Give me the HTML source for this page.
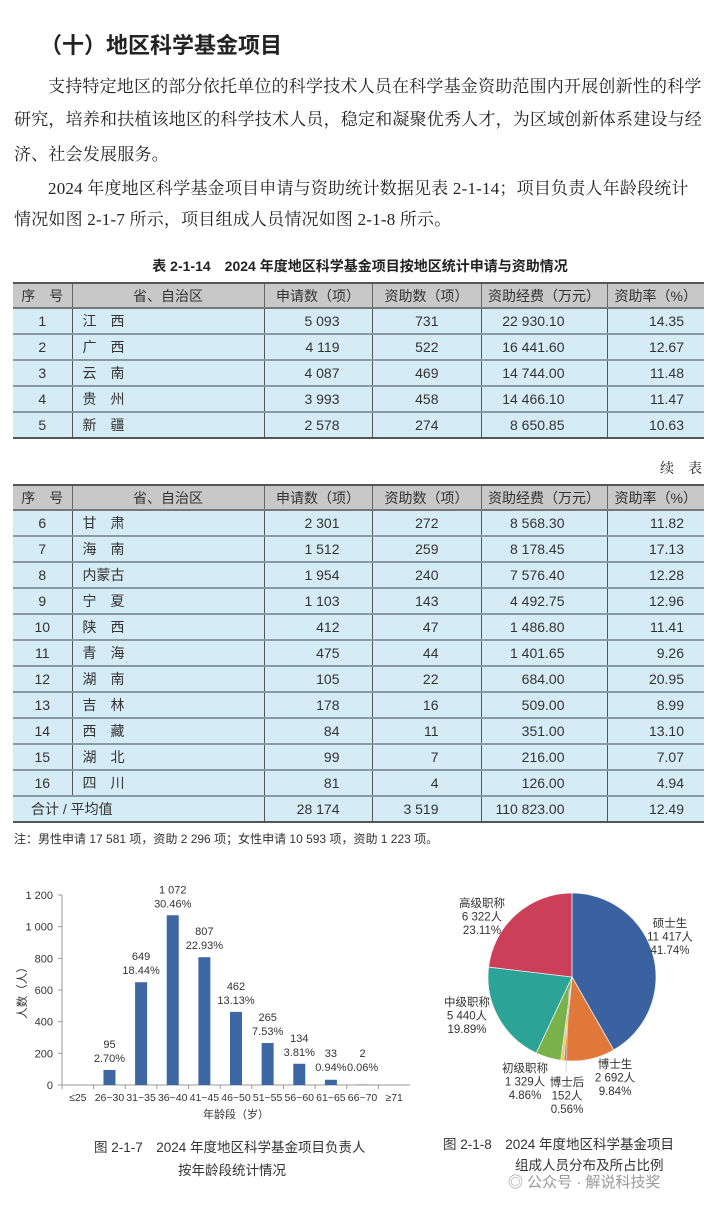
<!DOCTYPE html>
<html><head><meta charset="utf-8">
<style>
body{margin:0;width:720px;height:1210px;background:#fff;position:relative;overflow:hidden;font-family:"Liberation Sans","Noto Sans CJK SC",sans-serif;color:#222}
.abs{position:absolute;white-space:nowrap}
.para{font-family:"Liberation Serif","Noto Serif CJK SC",serif;font-size:17px;letter-spacing:0.2px;color:#222}
table{position:absolute;left:13px;width:691px;border-collapse:collapse;font-size:14px;color:#333;table-layout:fixed}
th,td{padding:0;box-sizing:border-box;line-height:16px}
th{background:#c8c8c8;font-weight:normal;height:25px;border-left:1px solid #666;border-top:2px solid #555;border-bottom:2px solid #777}
td{background:#d5ebf5;height:26px;border-left:1px solid #555;border-bottom:2px solid #8a9aa2;text-align:right}
th:first-child,td:first-child{border-left:none}
td.c{text-align:center}td.l{text-align:left;padding-left:10px}
tr:last-child td{border-bottom:2px solid #555}
</style></head><body>
<div class="abs" style="left:40px;top:28px;font-size:22px;font-weight:bold;font-family:'Liberation Sans','Noto Sans CJK SC',sans-serif">（十）地区科学基金项目</div>
<div class="abs para" style="left:48px;top:72px">支持特定地区的部分依托单位的科学技术人员在科学基金资助范围内开展创新性的科学</div>
<div class="abs para" style="left:14px;top:105px">研究，培养和扶植该地区的科学技术人员，稳定和凝聚优秀人才，为区域创新体系建设与经</div>
<div class="abs para" style="left:14px;top:140px">济、社会发展服务。</div>
<div class="abs para" style="left:48px;top:174px">2024 年度地区科学基金项目申请与资助统计数据见表 2-1-14；项目负责人年龄段统计</div>
<div class="abs para" style="left:14px;top:205px">情况如图 2-1-7 所示，项目组成人员情况如图 2-1-8 所示。</div>
<div class="abs" style="left:0;width:720px;text-align:center;top:256px;font-size:14px;font-weight:bold">表 2-1-14　2024 年度地区科学基金项目按地区统计申请与资助情况</div>

<table style="top:282px">
<colgroup><col style="width:59px"><col style="width:192px"><col style="width:108px"><col style="width:109px"><col style="width:126px"><col style="width:97px"></colgroup>
<tr><th>序　号</th><th>省、自治区</th><th>申请数（项）</th><th>资助数（项）</th><th>资助经费（万元）</th><th>资助率（%）</th></tr>
<tr><td class="c">1</td><td class="l">江　西</td><td style="padding-right:32px">5 093</td><td style="padding-right:42px">731</td><td style="padding-right:42px">22 930.10</td><td style="padding-right:20px">14.35</td></tr>
<tr><td class="c">2</td><td class="l">广　西</td><td style="padding-right:32px">4 119</td><td style="padding-right:42px">522</td><td style="padding-right:42px">16 441.60</td><td style="padding-right:20px">12.67</td></tr>
<tr><td class="c">3</td><td class="l">云　南</td><td style="padding-right:32px">4 087</td><td style="padding-right:42px">469</td><td style="padding-right:42px">14 744.00</td><td style="padding-right:20px">11.48</td></tr>
<tr><td class="c">4</td><td class="l">贵　州</td><td style="padding-right:32px">3 993</td><td style="padding-right:42px">458</td><td style="padding-right:42px">14 466.10</td><td style="padding-right:20px">11.47</td></tr>
<tr><td class="c">5</td><td class="l">新　疆</td><td style="padding-right:32px">2 578</td><td style="padding-right:42px">274</td><td style="padding-right:42px">8 650.85</td><td style="padding-right:20px">10.63</td></tr>
</table>

<div class="abs" style="left:660px;top:458px;font-size:14px;font-family:'Liberation Serif','Noto Serif CJK SC',serif">续　表</div>

<table style="top:484px">
<colgroup><col style="width:59px"><col style="width:192px"><col style="width:108px"><col style="width:109px"><col style="width:126px"><col style="width:97px"></colgroup>
<tr><th>序　号</th><th>省、自治区</th><th>申请数（项）</th><th>资助数（项）</th><th>资助经费（万元）</th><th>资助率（%）</th></tr>
<tr><td class="c">6</td><td class="l">甘　肃</td><td style="padding-right:32px">2 301</td><td style="padding-right:42px">272</td><td style="padding-right:42px">8 568.30</td><td style="padding-right:20px">11.82</td></tr>
<tr><td class="c">7</td><td class="l">海　南</td><td style="padding-right:32px">1 512</td><td style="padding-right:42px">259</td><td style="padding-right:42px">8 178.45</td><td style="padding-right:20px">17.13</td></tr>
<tr><td class="c">8</td><td class="l">内蒙古</td><td style="padding-right:32px">1 954</td><td style="padding-right:42px">240</td><td style="padding-right:42px">7 576.40</td><td style="padding-right:20px">12.28</td></tr>
<tr><td class="c">9</td><td class="l">宁　夏</td><td style="padding-right:32px">1 103</td><td style="padding-right:42px">143</td><td style="padding-right:42px">4 492.75</td><td style="padding-right:20px">12.96</td></tr>
<tr><td class="c">10</td><td class="l">陕　西</td><td style="padding-right:32px">412</td><td style="padding-right:42px">47</td><td style="padding-right:42px">1 486.80</td><td style="padding-right:20px">11.41</td></tr>
<tr><td class="c">11</td><td class="l">青　海</td><td style="padding-right:32px">475</td><td style="padding-right:42px">44</td><td style="padding-right:42px">1 401.65</td><td style="padding-right:20px">9.26</td></tr>
<tr><td class="c">12</td><td class="l">湖　南</td><td style="padding-right:32px">105</td><td style="padding-right:42px">22</td><td style="padding-right:42px">684.00</td><td style="padding-right:20px">20.95</td></tr>
<tr><td class="c">13</td><td class="l">吉　林</td><td style="padding-right:32px">178</td><td style="padding-right:42px">16</td><td style="padding-right:42px">509.00</td><td style="padding-right:20px">8.99</td></tr>
<tr><td class="c">14</td><td class="l">西　藏</td><td style="padding-right:32px">84</td><td style="padding-right:42px">11</td><td style="padding-right:42px">351.00</td><td style="padding-right:20px">13.10</td></tr>
<tr><td class="c">15</td><td class="l">湖　北</td><td style="padding-right:32px">99</td><td style="padding-right:42px">7</td><td style="padding-right:42px">216.00</td><td style="padding-right:20px">7.07</td></tr>
<tr><td class="c">16</td><td class="l">四　川</td><td style="padding-right:32px">81</td><td style="padding-right:42px">4</td><td style="padding-right:42px">126.00</td><td style="padding-right:20px">4.94</td></tr>
<tr><td colspan="2" class="l" style="padding-left:18px">合计 / 平均值</td><td style="padding-right:32px">28 174</td><td style="padding-right:42px">3 519</td><td style="padding-right:42px">110 823.00</td><td style="padding-right:20px">12.49</td></tr>
</table>

<div class="abs" style="left:14px;top:830px;font-size:12px;color:#333">注：男性申请 17 581 项，资助 2 296 项；女性申请 10 593 项，资助 1 223 项。</div>

<svg id="bar" class="abs" style="left:0;top:870px" width="420" height="260"></svg>
<svg id="pie" class="abs" style="left:420px;top:860px" width="300" height="270"></svg>

<div class="abs" style="left:94px;top:1136px;font-size:13.5px;color:#333">图 2-1-7　2024 年度地区科学基金项目负责人</div>
<div class="abs" style="left:178px;top:1159px;font-size:13.5px;color:#333">按年龄段统计情况</div>
<div class="abs" style="left:443px;top:1133px;font-size:13.5px;color:#333">图 2-1-8　2024 年度地区科学基金项目</div>
<div class="abs" style="left:515px;top:1154px;font-size:13.5px;color:#333">组成人员分布及所占比例</div>
<div class="abs" style="left:508px;top:1171px;font-size:15px;color:#999">◎ 公众号 · 解说科技奖</div>

<script>
const ageCats=["≤25","26~30","31~35","36~40","41~45","46~50","51~55","56~60","61~65","66~70","≥71"];
const ageVals=[0,95,649,1072,807,462,265,134,33,2,0];
const ageValLabels=["","95","649","1 072","807","462","265","134","33","2",""];
const agePctLabels=["","2.70%","18.44%","30.46%","22.93%","13.13%","7.53%","3.81%","0.94%","0.06%",""];
const yTicks=[0,200,400,600,800,1000,1200];
const yTickLabels=["0","200","400","600","800","1 000","1 200"];

const pieCats=["硕士生","博士生","博士后","初级职称","中级职称","高级职称"];
const pieVals=[11417,2692,152,1329,5440,6322];
const pieValLabels=["11 417人","2 692人","152人","1 329人","5 440人","6 322人"];
const piePctLabels=["41.74%","9.84%","0.56%","4.86%","19.89%","23.11%"];

const NS="http://www.w3.org/2000/svg";
function mk(p,t,a){const e=document.createElementNS(NS,t);for(const k in a)e.setAttribute(k,a[k]);p.appendChild(e);return e;}
const bar=document.getElementById('bar');
const x0=62,x1=410,yBase=215,yTop=25,yMax=1200;
const bw=(x1-x0)/ageCats.length;
const ys=v=>yBase-(v/yMax)*(yBase-yTop);
const xc=i=>x0+bw*(i+0.5);
let ax=mk(bar,'line',{x1:x0,y1:yBase,x2:x1,y2:yBase,stroke:'#999','stroke-width':1});


let ay=mk(bar,'line',{x1:x0,y1:yTop,x2:x0,y2:yBase,stroke:'#999','stroke-width':1});


yTicks.forEach((v,i)=>{
  const t=mk(bar,'text',{x:x0-9,y:ys(v)+4,'text-anchor':'end','font-size':11,fill:'#333'});t.textContent=yTickLabels[i];
  
  
  mk(bar,'line',{x1:x0-4,y1:ys(v),x2:x0,y2:ys(v),stroke:'#999'});
});
ageCats.forEach((c,i)=>{
  mk(bar,'line',{x1:x0+bw*i,y1:yBase,x2:x0+bw*i,y2:yBase+4,stroke:'#999'});
  const t=mk(bar,'text',{x:xc(i),y:yBase+16,'text-anchor':'middle','font-size':10.5,fill:'#333'});t.textContent=c;
  
  
  if(ageVals[i]>0){
    const r=mk(bar,'rect',{x:xc(i)-6,y:ys(ageVals[i]),width:12,height:yBase-ys(ageVals[i]),fill:'#3c67a3'});
    
    
  }
  if(ageValLabels[i]){
    const top=Math.min(ys(ageVals[i]),yBase-6);
    const a=mk(bar,'text',{x:xc(i),y:top-22,'text-anchor':'middle','font-size':11,fill:'#333'});a.textContent=ageValLabels[i];
    
    
    const b=mk(bar,'text',{x:xc(i),y:top-8,'text-anchor':'middle','font-size':11,fill:'#333'});b.textContent=agePctLabels[i];
    
    
  }
});
const yt=mk(bar,'text',{x:0,y:0,'text-anchor':'middle','font-size':11.5,fill:'#333',transform:'translate(26,120) rotate(-90)'});yt.textContent='人数（人）';


const xt=mk(bar,'text',{x:236,y:yBase+33,'text-anchor':'middle','font-size':11,fill:'#333'});xt.textContent='年龄段（岁）';



const pie=document.getElementById('pie');
const cx=152,cy=117,R=84;
const colors=['#3a62a0','#e0783a','#e8c84a','#79b14a','#2ba397','#cb3f58'];
const total=pieVals.reduce((a,b)=>a+b,0);
let ang=0;
pieVals.forEach((v,i)=>{
  const a0=ang,a1=ang+v/total*2*Math.PI;ang=a1;
  const p=a=>[cx+R*Math.sin(a),cy-R*Math.cos(a)];
  const [sx,sy]=p(a0),[ex,ey]=p(a1);
  const large=(a1-a0)>Math.PI?1:0;
  const s=mk(pie,'path',{d:`M${cx},${cy}L${sx},${sy}A${R},${R} 0 ${large} 1 ${ex},${ey}Z`,fill:colors[i],stroke:'#eee','stroke-width':0.8});
  
  
});
const lp=[[250,67],[195,208],[147,226],[105,212],[47,146],[62,47]];
pieCats.forEach((c,i)=>{
  const g=mk(pie,'text',{x:lp[i][0],y:lp[i][1],'text-anchor':'middle','font-size':11.5,fill:'#333'});
  
  
  [c,pieValLabels[i],piePctLabels[i]].forEach((s,k)=>{const t=mk(g,'tspan',{x:lp[i][0],dy:k?13.5:0});t.textContent=s;});
});
mk(pie,'line',{x1:cx-3,y1:cy+12,x2:146,y2:212,stroke:'#ccc','stroke-width':0.8});
</script>
</body></html>
